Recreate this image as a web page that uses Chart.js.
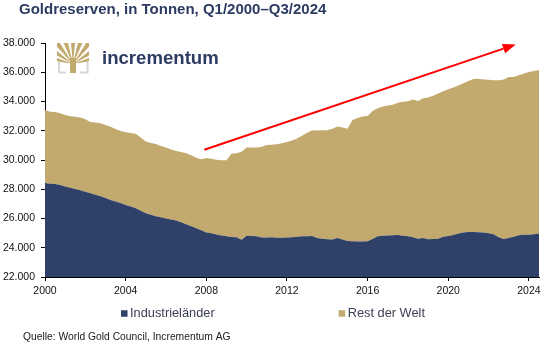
<!DOCTYPE html>
<html lang="de">
<head>
<meta charset="UTF-8">
<title>Goldreserven, in Tonnen</title>
<style>
  html, body { margin: 0; padding: 0; background: #fff; }
  #wrap { width: 546px; height: 346px; }
</style>
</head>
<body>
<div id="wrap"><canvas id="goldChart"></canvas></div>

<script src="https://cdn.jsdelivr.net/npm/chart.js@4.4.0/dist/chart.umd.min.js"></script>
<script>
// Goldreserven in Tonnen, quarterly Q1/2000 .. Q3/2024
const industrielaender = [
  28430, 28380, 28360, 28290,  28180, 28110, 28020, 27930,
  27830, 27730, 27630, 27520,  27400, 27270, 27160, 27060,
  26930, 26820, 26700, 26530,  26360, 26250, 26150, 26080,
  26000, 25930, 25860, 25750,  25610, 25470, 25330, 25200,
  25040, 24990, 24900, 24840,  24780, 24740, 24710, 24550,
  24820, 24800, 24780, 24700,  24700, 24710, 24680, 24680,
  24700, 24720, 24750, 24780,  24790, 24800, 24670, 24620,
  24580, 24570, 24660, 24560,  24460, 24440, 24430, 24430,
  24440, 24590, 24780, 24820,  24840, 24860, 24870, 24820,
  24780, 24720, 24620, 24660,  24580, 24590, 24620, 24760,
  24810, 24880, 24980, 25040,  25070, 25070, 25060, 25050,
  25000, 24920, 24720, 24600,  24670, 24760, 24850, 24890,
  24890, 24920, 24970
];
const restDerWelt = [
  4970, 4920, 4930, 4910,  4890, 4890, 4940, 4980,
  4950, 4860, 4930, 5000,  5000, 5010, 4960, 4930,
  4970, 5030, 5100, 5000,  4910, 4910, 4950, 4880,
  4850, 4790, 4760, 4800,  4850, 4850, 4820, 4850,
  5100, 5090, 5120, 5150,  5210, 5680, 5760, 6010,
  6030, 6060, 6070, 6200,  6320, 6330, 6390, 6470,
  6530, 6620, 6720, 6870,  7070, 7230, 7350, 7410,
  7460, 7560, 7630, 7670,  7680, 8290, 8450, 8550,
  8570, 8760, 8760, 8830,  8880, 8920, 9040, 9170,
  9240, 9420, 9410, 9570,  9700, 9810, 9930, 9940,
  10030, 10080, 10120, 10210,  10330, 10470, 10500, 10450,
  10480, 10540, 10730, 10900,  11000, 10920, 10950, 11020,
  11130, 11170, 11180
];
const tickYears = [2000, 2004, 2008, 2012, 2016, 2020, 2024];

// quarter labels Q1/2000 .. Q3/2024
const quarters = [];
for (let y = 2000; y <= 2024; y++) {
  for (let q = 1; q <= 4; q++) {
    if (y === 2024 && q > 3) break;
    quarters.push('Q' + q + '/' + y);
  }
}

// trend arrow (year, tonnes)
const arrowFrom = { year: 2007.9, value: 30700 };
const arrowTo = { year: 2023.35, value: 37900 };

const NAVY = '#2d3b63';
const BLUE = '#2f4169';
const GOLD = '#c2a96d';
const FONT = '"Liberation Sans", Arial, sans-serif';

function fmtThousands(v) {
  return String(v).replace(/\B(?=(\d{3})+(?!\d))/g, '.');
}

function drawLogo(ctx) {
  // little tree mark
  ctx.save();
  ctx.beginPath();
  ctx.rect(57, 43, 32, 20);
  ctx.clip();
  ctx.fillStyle = GOLD;
  const bx = 73, by = 64;
  for (let k = 0; k < 9; k++) {
    const a = (-165 + k * 18.75) * Math.PI / 180;
    const w = 5.5 * Math.PI / 180;
    ctx.beginPath();
    ctx.moveTo(bx, by);
    ctx.lineTo(bx + Math.cos(a - w) * 40, by + Math.sin(a - w) * 40);
    ctx.lineTo(bx + Math.cos(a + w) * 40, by + Math.sin(a + w) * 40);
    ctx.closePath();
    ctx.fill();
  }
  ctx.restore();
  ctx.fillStyle = GOLD;
  ctx.fillRect(70, 58, 6, 15);

  ctx.strokeStyle = '#d6d6d6';
  ctx.lineWidth = 2;
  ctx.beginPath();
  ctx.moveTo(59, 62); ctx.lineTo(59, 72.5); ctx.lineTo(66, 72.5);
  ctx.moveTo(87.5, 62); ctx.lineTo(87.5, 72.5); ctx.lineTo(80, 72.5);
  ctx.stroke();

  ctx.fillStyle = NAVY;
  ctx.font = 'bold 18.6px ' + FONT;
  ctx.textBaseline = 'alphabetic';
  ctx.fillText('incrementum', 102, 64);
}

const decor = {
  id: 'decor',
  afterDatasetsDraw(chart) {
    const ctx = chart.ctx;
    const xs = chart.scales.x, ys = chart.scales.y;
    const x1 = xs.getPixelForValue((arrowFrom.year - 2000) * 4);
    const y1 = ys.getPixelForValue(arrowFrom.value);
    const x2 = xs.getPixelForValue((arrowTo.year - 2000) * 4);
    const y2 = ys.getPixelForValue(arrowTo.value);
    const ang = Math.atan2(y2 - y1, x2 - x1);
    const head = 13, half = 5;
    const hx = x2 - Math.cos(ang) * head, hy = y2 - Math.sin(ang) * head;
    ctx.save();
    ctx.strokeStyle = '#ff0000';
    ctx.fillStyle = '#ff0000';
    ctx.lineWidth = 2;
    ctx.beginPath();
    ctx.moveTo(x1, y1);
    ctx.lineTo(hx, hy);
    ctx.stroke();
    ctx.beginPath();
    ctx.moveTo(x2, y2);
    ctx.lineTo(hx + Math.sin(ang) * half, hy - Math.cos(ang) * half);
    ctx.lineTo(hx - Math.sin(ang) * half, hy + Math.cos(ang) * half);
    ctx.closePath();
    ctx.fill();
    ctx.restore();
  },
  afterDraw(chart) {
    const ctx = chart.ctx;
    ctx.save();
    // title
    ctx.font = 'bold 15px ' + FONT;
    ctx.fillStyle = NAVY;
    ctx.textBaseline = 'alphabetic';
    ctx.fillText('Goldreserven, in Tonnen, Q1/2000\u2013Q3/2024', 19, 13.5);

    drawLogo(ctx);

    // legend
    ctx.font = '12.8px ' + FONT;
    ctx.textBaseline = 'middle';
    const items = chart.data.datasets.map(d => ({ text: d.label, color: d.backgroundColor }));
    const box = 6.5, gap = 2.5, spacing = 124;
    const widths = items.map(it => box + gap + ctx.measureText(it.text).width);
    const total = widths[0] + spacing + widths[1];
    let x = chart.width / 2 - total / 2;
    const ly = 313.5;
    items.forEach((it, i) => {
      ctx.fillStyle = it.color;
      ctx.fillRect(x, ly - box / 2, box, box);
      ctx.fillStyle = '#3b4052';
      ctx.fillText(it.text, x + box + gap, ly);
      x += widths[i] + spacing;
    });

    // source
    ctx.font = '10.3px ' + FONT;
    ctx.fillStyle = '#1a1a1a';
    ctx.fillText('Quelle: World Gold Council, Incrementum AG', 23, 337);
    ctx.restore();
  }
};

new Chart(document.getElementById('goldChart'), {
  type: 'line',
  data: {
    labels: quarters,
    datasets: [
      {
        label: 'Industrieländer',
        data: industrielaender,
        backgroundColor: BLUE,
        borderWidth: 0,
        pointRadius: 0,
        fill: 'origin'
      },
      {
        label: 'Rest der Welt',
        data: restDerWelt,
        backgroundColor: GOLD,
        borderWidth: 0,
        pointRadius: 0,
        fill: '-1'
      }
    ]
  },
  options: {
    responsive: true,
    maintainAspectRatio: false,
    animation: false,
    devicePixelRatio: 1,
    layout: { padding: { top: 43, right: 7, left: 0, bottom: 0 } },
    plugins: {
      legend: { display: false },
      title: { display: false },
      tooltip: { enabled: false }
    },
    scales: {
      x: {
        offset: false,
        afterFit: s => { s.height = 69; },
        afterBuildTicks: s => {
          s.ticks = s.ticks.filter(t => {
            const lab = quarters[t.value];
            return lab.startsWith('Q1/') && tickYears.includes(Number(lab.slice(3)));
          });
        },
        ticks: {
          autoSkip: false,
          maxRotation: 0,
          padding: 4,
          color: '#111',
          font: { family: FONT, size: 10.5 },
          callback: v => quarters[v].slice(3)
        },
        grid: { drawOnChartArea: false, drawTicks: true, tickLength: 4, color: '#000' },
        border: { display: true, color: '#000', width: 1 }
      },
      y: {
        stacked: true,
        min: 22000,
        max: 38000,
        afterFit: s => { s.width = 45; },
        ticks: {
          stepSize: 2000,
          padding: 6,
          color: '#111',
          font: { family: FONT, size: 10.5 },
          callback: v => fmtThousands(v)
        },
        grid: { drawOnChartArea: false, drawTicks: true, tickLength: 4, color: '#000' },
        border: { display: true, color: '#000', width: 1 }
      }
    }
  },
  plugins: [decor]
});
</script>
</body>
</html>
